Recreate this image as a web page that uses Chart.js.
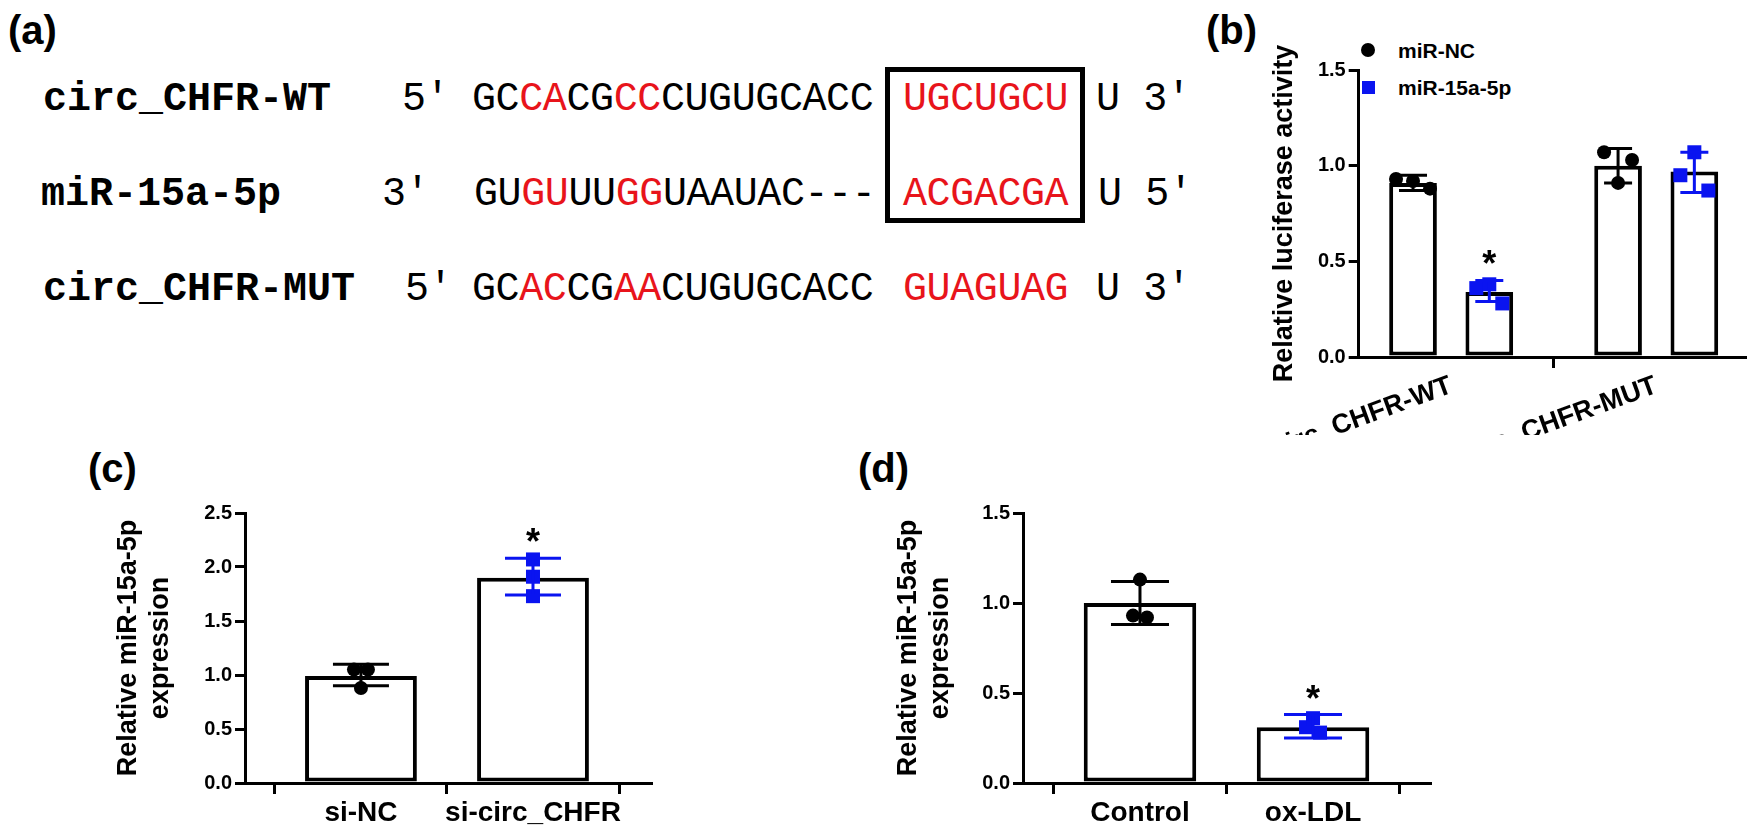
<!DOCTYPE html>
<html>
<head>
<meta charset="utf-8">
<script src="https://cdn.jsdelivr.net/npm/chart.js@4"></script>
<style>
body { margin: 0; background: #fff; width: 1750px; height: 833px; position: relative; overflow: hidden; font-family: "Liberation Sans", Arial, sans-serif; }
.abs { position: absolute; white-space: pre; line-height: 1; }
.plabel { font-weight: bold; font-size: 40px; }
.name { font-family: "Liberation Mono", monospace; font-weight: bold; font-size: 40px; }
.seq { font-family: "Liberation Mono", monospace; font-size: 40px; letter-spacing: -0.4px; }
.r { color: #e8141b; }
.box { position: absolute; left: 885px; top: 67px; width: 190px; height: 146px; border: 5px solid #000; }
.leg { font-weight: bold; font-size: 21px; }
canvas { position: absolute; }
</style>
</head>
<body>
<div class="abs plabel" style="left:8px;top:10px">(a)</div>
<div class="abs plabel" style="left:1206px;top:10px">(b)</div>
<div class="abs plabel" style="left:88px;top:448px">(c)</div>
<div class="abs plabel" style="left:858px;top:448px">(d)</div>

<div class="abs name" style="left:43px;top:80px">circ_CHFR-WT</div>
<div class="abs seq" style="left:402px;top:80px">5'</div>
<div class="abs seq" style="left:472px;top:80px">GC<span class="r">CA</span>CG<span class="r">CC</span>CUGUGCACC</div>
<div class="abs seq r" style="left:903px;top:80px">UGCUGCU</div>
<div class="abs seq" style="left:1096px;top:80px">U 3'</div>

<div class="abs name" style="left:41px;top:175px">miR-15a-5p</div>
<div class="abs seq" style="left:382px;top:175px">3'</div>
<div class="abs seq" style="left:474px;top:175px">GU<span class="r">GU</span>UU<span class="r">GG</span>UAAUAC---</div>
<div class="abs seq r" style="left:903px;top:175px">ACGACGA</div>
<div class="abs seq" style="left:1098px;top:175px">U 5'</div>

<div class="abs name" style="left:43px;top:270px">circ_CHFR-MUT</div>
<div class="abs seq" style="left:405px;top:270px">5'</div>
<div class="abs seq" style="left:472px;top:270px">GC<span class="r">AC</span>CG<span class="r">AA</span>CUGUGCACC</div>
<div class="abs seq r" style="left:903px;top:270px">GUAGUAG</div>
<div class="abs seq" style="left:1096px;top:270px">U 3'</div>
<div class="box"></div>

<div class="abs" style="left:1361px;top:43px;width:14px;height:14px;border-radius:50%;background:#000"></div>
<div class="abs leg" style="left:1398px;top:40px">miR-NC</div>
<div class="abs" style="left:1362px;top:81px;width:13px;height:13px;background:#0a14f0"></div>
<div class="abs leg" style="left:1398px;top:77px">miR-15a-5p</div>

<canvas id="cb" style="left:1250px;top:20px" width="500" height="415"></canvas>
<canvas id="cc" style="left:112px;top:460px" width="549" height="373"></canvas>
<canvas id="cd" style="left:892px;top:460px" width="548" height="373"></canvas>

<script>
const BLACK = "#000000";
const BLUE = "#0a14f0";

// panel (b)
const bCategories = ["circ_CHFR-WT", "circ_CHFR-MUT"];
const bNcMeans = [0.91, 1.00];
const b15aMeans = [0.34, 0.97];
const bNcPoints = [[0.93, 0.92, 0.88], [1.07, 0.91, 1.03]];   // left, centre, right
const b15aPoints = [[0.36, 0.38, 0.28], [0.95, 1.07, 0.87]];
const bNcErr = [[0.87, 0.95], [0.91, 1.09]];
const b15aErr = [[0.29, 0.40], [0.86, 1.07]];
const bNcStars = [false, false];
const b15aStars = [true, false];
const bTicks = [0, 0.5, 1.0, 1.5];

// panel (c)
const cCategories = ["si-NC", "si-circ_CHFR"];
const cMeans = [0.99, 1.90];
const cPoints = [[1.05, 0.88, 1.05], [2.07, 1.91, 1.73]];
const cErr = [[0.90, 1.10], [1.74, 2.08]];
const cStars = [false, true];
const cTicks = [0, 0.5, 1.0, 1.5, 2.0, 2.5];

// panel (d)
const dCategories = ["Control", "ox-LDL"];
const dMeans = [1.00, 0.31];
const dPoints = [[0.93, 1.13, 0.92], [0.31, 0.36, 0.28]];
const dErr = [[0.88, 1.12], [0.25, 0.38]];
const dStars = [false, true];
const dTicks = [0, 0.5, 1.0, 1.5];

function drawMarker(ctx, x, y, shape, color, r) {
    ctx.fillStyle = color;
    if (shape === "square") {
        ctx.fillRect(x - r, y - r, 2 * r, 2 * r);
    } else {
        ctx.beginPath();
        ctx.arc(x, y, r, 0, Math.PI * 2);
        ctx.fill();
    }
}

// dots, error bars and stars on top of the bars
const overlayPlugin = {
    id: "overlay",
    afterDatasetsDraw(chart, args, opts) {
        const ctx = chart.ctx;
        const yScale = chart.scales.y;
        opts.sets.forEach((set, di) => {
            chart.getDatasetMeta(di).data.forEach((bar, i) => {
                const x = bar.x;
                const color = set.colors[i];
                const shape = set.shapes[i];
                ctx.save();
                set.points[i].forEach((v, k) => {
                    drawMarker(ctx, x + (k - 1) * set.jitter[i], yScale.getPixelForValue(v), shape, color, opts.r);
                });
                const lo = yScale.getPixelForValue(set.err[i][0]);
                const hi = yScale.getPixelForValue(set.err[i][1]);
                ctx.strokeStyle = color;
                ctx.lineWidth = 3;
                ctx.beginPath();
                ctx.moveTo(x, lo); ctx.lineTo(x, hi);
                ctx.moveTo(x - opts.cap, lo); ctx.lineTo(x + opts.cap, lo);
                ctx.moveTo(x - opts.cap, hi); ctx.lineTo(x + opts.cap, hi);
                ctx.stroke();
                if (set.stars[i]) {
                    ctx.fillStyle = BLACK;
                    ctx.font = "bold 36px 'Liberation Sans'";
                    ctx.textAlign = "center";
                    ctx.fillText("*", x, hi - 4);
                }
                ctx.restore();
            });
        });
    }
};

function barDataset(values, catPct, barPct) {
    return {
        data: values.map((v, i) => ({ x: i, y: v })),
        backgroundColor: "#ffffff",
        borderColor: BLACK,
        borderWidth: 4,
        borderSkipped: false,
        categoryPercentage: catPct,
        barPercentage: barPct
    };
}

function makePanel(id, cfg) {
    new Chart(document.getElementById(id), {
        type: "bar",
        data: { datasets: cfg.datasets },
        options: {
            responsive: false, animation: false,
            layout: { padding: { top: cfg.padTop, right: cfg.padRight, left: 0, bottom: 0 } },
            plugins: {
                legend: { display: false }, tooltip: { enabled: false },
                overlay: cfg.overlay
            },
            scales: {
                x: {
                    type: "linear", min: cfg.xMin, max: cfg.xMax, offset: false,
                    afterBuildTicks: s => { s.ticks = cfg.categories.map((c, i) => ({ value: i })); },
                    afterFit: s => { s.height = cfg.xHeight; },
                    ticks: {
                        color: BLACK, font: { size: cfg.xFont, weight: "bold", family: "Liberation Sans" },
                        callback: v => cfg.categories[v], padding: 2, autoSkip: false,
                        minRotation: cfg.rotation, maxRotation: cfg.rotation
                    },
                    grid: { drawOnChartArea: false, color: BLACK, lineWidth: 3, tickLength: 11 },
                    border: { color: BLACK, width: 3 }
                },
                y: {
                    min: 0, max: cfg.yTicks[cfg.yTicks.length - 1],
                    afterBuildTicks: s => { s.ticks = cfg.yTicks.map(v => ({ value: v })); },
                    afterFit: s => { s.width = cfg.yWidth; },
                    ticks: { color: BLACK, font: { size: 20, weight: "bold", family: "Liberation Sans" }, callback: v => v.toFixed(1), padding: 3 },
                    grid: { drawOnChartArea: false, color: BLACK, lineWidth: 3, tickLength: 10 },
                    border: { color: BLACK, width: 3 },
                    title: { display: true, text: cfg.yTitle, color: BLACK, font: { size: 27, weight: "bold", family: "Liberation Sans" }, padding: { top: 0, bottom: 4 }, lineHeight: 1.2 }
                }
            }
        },
        plugins: [overlayPlugin]
    });
}

makePanel("cb", {
    categories: bCategories,
    datasets: [barDataset(bNcMeans, 0.744, 0.625), barDataset(b15aMeans, 0.744, 0.625)],
    xMin: -0.451, xMax: 1.433, yTicks: bTicks, yTitle: "Relative luciferase activity",
    yWidth: 90, xHeight: 78, xFont: 27, rotation: 20, padTop: 50, padRight: 5,
    overlay: {
        r: 7, cap: 14,
        sets: [
            { points: bNcPoints, err: bNcErr, stars: bNcStars, shapes: ["circle", "circle"], colors: [BLACK, BLACK], jitter: [17, 14] },
            { points: b15aPoints, err: b15aErr, stars: b15aStars, shapes: ["square", "square"], colors: [BLUE, BLUE], jitter: [13, 14] }
        ]
    }
});

makePanel("cc", {
    categories: cCategories,
    datasets: [barDataset(cMeans, 0.65, 1)],
    xMin: -0.674, xMax: 1.686, yTicks: cTicks, yTitle: ["Relative miR-15a-5p", "expression"],
    yWidth: 133, xHeight: 50, xFont: 28, rotation: 0, padTop: 53, padRight: 10,
    overlay: {
        r: 7, cap: 28,
        sets: [{ points: cPoints, err: cErr, stars: cStars, shapes: ["circle", "square"], colors: [BLACK, BLUE], jitter: [7, 0] }]
    }
});

makePanel("cd", {
    categories: dCategories,
    datasets: [barDataset(dMeans, 0.65, 1)],
    xMin: -0.676, xMax: 1.676, yTicks: dTicks, yTitle: ["Relative miR-15a-5p", "expression"],
    yWidth: 131, xHeight: 50, xFont: 28, rotation: 0, padTop: 53, padRight: 10,
    overlay: {
        r: 7, cap: 29,
        sets: [{ points: dPoints, err: dErr, stars: dStars, shapes: ["circle", "square"], colors: [BLACK, BLUE], jitter: [7, 7] }]
    }
});
</script>
</body>
</html>
